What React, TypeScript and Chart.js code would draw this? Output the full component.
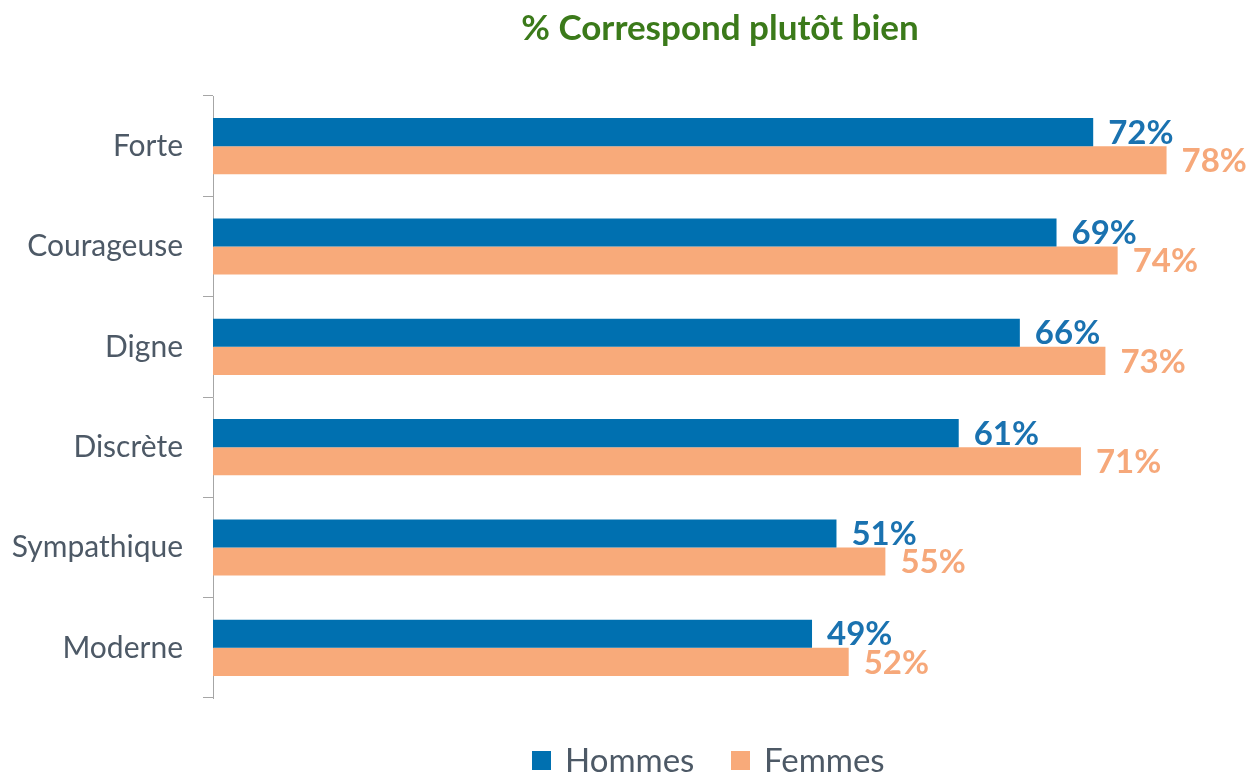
import React, { useEffect, useRef } from "react";
import { Chart, registerables } from "chart.js";

Chart.register(...registerables);

const TITLE = "% Correspond plutôt bien";
const CATEGORIES = ["Forte", "Courageuse", "Digne", "Discrète", "Sympathique", "Moderne"];
const HOMMES = [72, 69, 66, 61, 51, 49];
const FEMMES = [78, 74, 73, 71, 55, 52];
const SERIES_NAMES = ["Hommes", "Femmes"];

const BLUE = "#0070B0";
const ORANGE = "#F8AA7A";
const BLUE_TEXT = "#1A72B0";
const ORANGE_TEXT = "#F6A87A";
const GREEN = "#3B7A1A";
const GREY_TEXT = "#4D5966";
const AXIS = "#A6A6A6";
const FONT = "Lato, 'Open Sans', sans-serif";

const decorPlugin = {
  id: "decor",
  afterDatasetsDraw(chart: any) {
    const ctx = chart.ctx;
    ctx.save();
    const colors = [BLUE_TEXT, ORANGE_TEXT];
    chart.data.datasets.forEach((ds: any, di: number) => {
      const meta = chart.getDatasetMeta(di);
      meta.data.forEach((bar: any, i: number) => {
        ctx.font = `bold 33px ${FONT}`;
        ctx.fillStyle = colors[di];
        ctx.textAlign = "left";
        ctx.textBaseline = "middle";
        ctx.fillText(`${ds.data[i]}%`, bar.x + 15, bar.y + 1);
      });
    });
    ctx.restore();
  },
  afterDraw(chart: any) {
    const ctx = chart.ctx;
    ctx.save();
    ctx.font = `bold 35px ${FONT}`;
    ctx.fillStyle = GREEN;
    ctx.textAlign = "center";
    ctx.textBaseline = "middle";
    ctx.fillText(TITLE, 720, 29);
    const items = [
      { name: SERIES_NAMES[0], color: BLUE, x: 532 },
      { name: SERIES_NAMES[1], color: ORANGE, x: 731 },
    ];
    ctx.font = `33px ${FONT}`;
    ctx.textAlign = "left";
    items.forEach((it) => {
      ctx.fillStyle = it.color;
      ctx.fillRect(it.x, 751, 19, 19);
      ctx.fillStyle = GREY_TEXT;
      ctx.fillText(it.name, it.x + 33, 761);
    });
    ctx.restore();
  },
};

export default function App() {
  const ref = useRef<HTMLCanvasElement>(null);
  useEffect(() => {
    if (!ref.current) return;
    const chart = new Chart(ref.current, {
      type: "bar",
      data: {
        labels: CATEGORIES,
        datasets: [
          { label: SERIES_NAMES[0], data: HOMMES, backgroundColor: BLUE, borderWidth: 0 },
          { label: SERIES_NAMES[1], data: FEMMES, backgroundColor: ORANGE, borderWidth: 0 },
        ],
      },
      options: {
        indexAxis: "y",
        animation: false,
        responsive: true,
        maintainAspectRatio: false,
        layout: { padding: { top: 96, bottom: 78, left: 0, right: 58 } },
        datasets: { bar: { categoryPercentage: 0.56, barPercentage: 1 } },
        plugins: {
          legend: { display: false },
          title: { display: false },
          tooltip: { enabled: false },
        },
        scales: {
          x: { display: false, min: 0, max: 80 },
          y: {
            grid: { drawOnChartArea: false, tickLength: 10, color: AXIS, offset: true },
            border: { color: AXIS, width: 1 },
            ticks: { padding: 20, color: GREY_TEXT, font: { family: FONT, size: 30 } },
            afterFit: (s: any) => {
              s.width = 213;
            },
          },
        },
      },
      plugins: [decorPlugin],
    });
    return () => chart.destroy();
  }, []);
  return (
    <div style={{ position: "fixed", left: 0, top: 0, width: 1249, height: 776, background: "#fff" }}>
      <canvas ref={ref} />
    </div>
  );
}
